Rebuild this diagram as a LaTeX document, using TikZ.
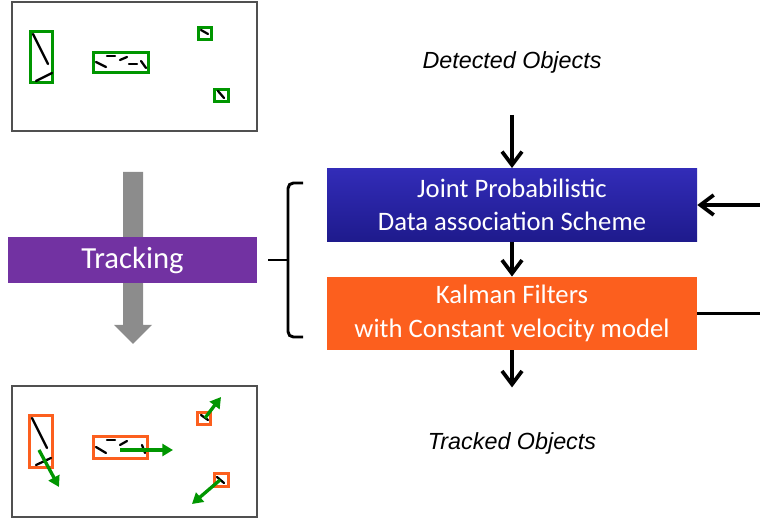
\documentclass[tikz,border=0pt]{standalone}
\usepackage{fontspec}
\usepackage{tikz}
\usetikzlibrary{arrows.meta,positioning,calc}
\newfontfamily\boxfont{Carlito}
\newfontfamily\labelfont{Liberation Sans}
\definecolor{detgreen}{RGB}{0,150,0}
\definecolor{trkorange}{RGB}{252,95,30}
\definecolor{trkpurple}{RGB}{114,50,162}
\definecolor{jpdatop}{RGB}{50,44,184}
\definecolor{jpdabot}{RGB}{30,26,140}
\definecolor{framegray}{RGB}{80,80,80}
\definecolor{arrowgray}{RGB}{140,140,140}
\tikzset{
    stage box/.style={
        minimum width=277.5pt,minimum height=55pt,
        inner sep=0pt,align=center,text=white,
        font=\boxfont\fontsize{20}{25}\selectfont
    },
    io label/.style={font=\labelfont\itshape\fontsize{17.5}{20}\selectfont},
    scene frame/.style={draw=framegray,line width=1pt},
    seg/.style={line width=1.7pt,line cap=round},
    flow/.style={line width=2.8pt,-{Straight Barb[length=10pt,width=15pt,line width=2.8pt]}},
    motion/.style={detgreen,line width=2.5pt,-{Triangle[length=8pt,width=9pt]}}
}
\begin{document}
\begin{tikzpicture}[x=0.75pt,y=-0.75pt]
\useasboundingbox (0,0) rectangle (760,523);
% scenes before and after tracking
\draw[scene frame] (12,2) rectangle (257,131);
\draw[scene frame] (12,386) rectangle (257,517);
\foreach \xa/\ya/\xb/\yb in {30.5/31.5/52.5/82.5,93.5/52.5/148.5/72.5,198.5/27.5/211.5/39.5,214.5/89.5/228.5/101.5}
    \draw[detgreen,line width=2.4pt] (\xa,\ya) rectangle (\xb,\yb);
\foreach \xa/\ya/\xb/\yb in {29.5/415.5/52.5/467.5,93.5/436.5/147.5/458.5,197.5/412.5/210.5/424.5,214.5/473.5/228.5/486.5}
    \draw[trkorange,line width=2.4pt] (\xa,\ya) rectangle (\xb,\yb);
\foreach \xa/\ya/\xb/\yb in {33/34/48/64,36/81/52/73,96/62/106/67,107/56/115/56,120/60/127/57,129/64/137/64,141/61/146/68,201/30/208/34,218/91/224/98}
    \draw[seg] (\xa,\ya) -- (\xb,\yb);
\foreach \xa/\ya/\xb/\yb in {32/418/47/448,36/465/51/458,96/447/106/453,107/440/115/440,120/445/127/441,142/445/145/453,201/415/208/420,217/477/224/483}
    \draw[seg] (\xa,\ya) -- (\xb,\yb);
\foreach \xa/\ya/\xb/\yb in {39/450/59/487,120/450/173/450,205/418/221/397,220/480/192/504}
    \draw[motion] (\xa,\ya) -- (\xb,\yb);
% tracking step
\fill[arrowgray] (123,172) -- (143,172) -- (143,325) -- (152,325) -- (133,344)
    -- (114,325) -- (123,325) -- cycle;
\node[fill=trkpurple,minimum width=187pt,minimum height=34.5pt,text=white,
    font=\boxfont\fontsize{23}{26}\selectfont] (tracking) at (132.5,260) {Tracking};
\draw[line width=2.2pt,rounded corners=4pt] (303,183) -- (288,183) -- (288,337) -- (303,337);
\draw[line width=2.2pt] (268,260) -- (288,260);
% pipeline
\node[stage box,top color=jpdatop,bottom color=jpdabot] (jpda) at (512,205)
    {Joint Probabilistic\\Data association Scheme};
\node[stage box,fill=trkorange] (kalman) at (512,313.5)
    {Kalman Filters\\with Constant velocity model};
\node[io label] (detected) at (512,62) {Detected Objects};
\node[io label] (tracked) at (512,443) {Tracked Objects};
\coordinate (fbin) at (760,205);
\coordinate (fbout) at (760,313.5);
\draw[flow,shorten <=28pt] (detected.south) -- (jpda.north);
\draw[flow] (jpda.south) -- (kalman.north);
\draw[flow,shorten >=30pt] (kalman.south) -- (tracked.north);
\draw[flow] (fbin) -- (jpda.east);
\draw[line width=2.8pt] (kalman.east) -- (fbout);
\end{tikzpicture}
\end{document}
